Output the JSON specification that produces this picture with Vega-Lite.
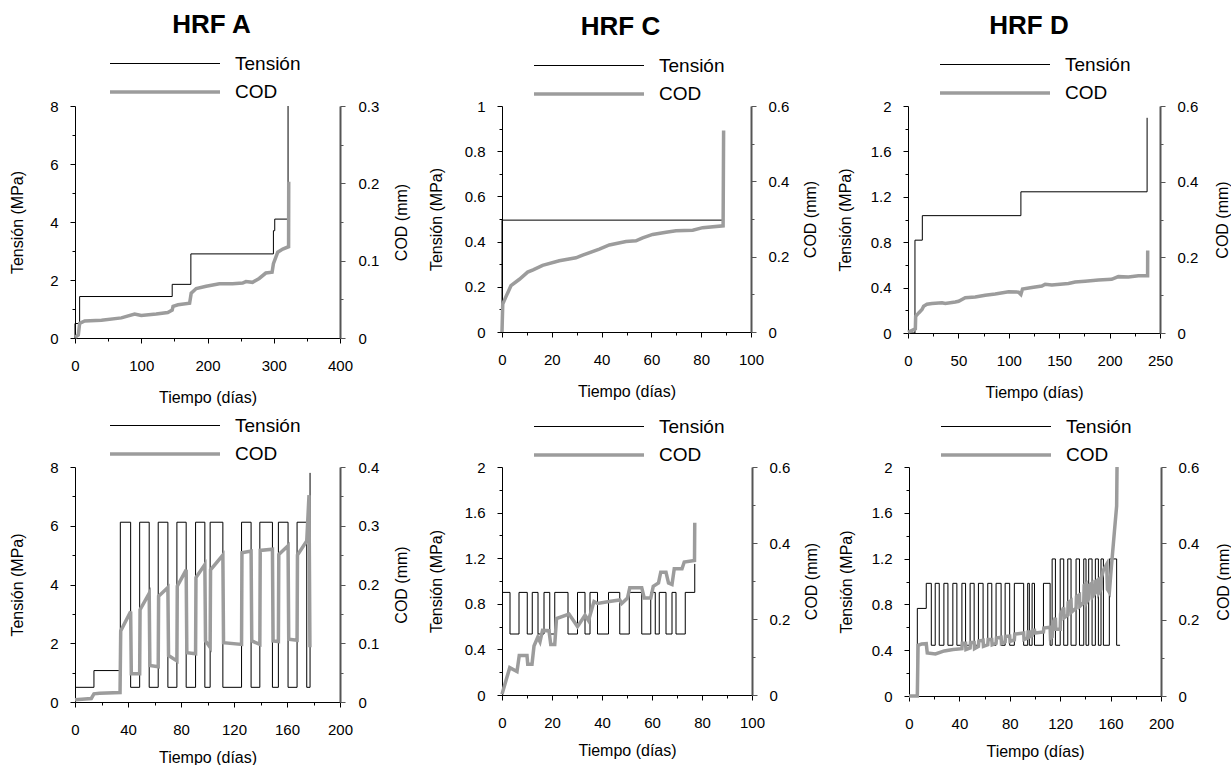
{
  "$schema": "https://vega.github.io/schema/vega-lite/v6.json",
  "padding": {"left": 9, "top": 12, "right": 0, "bottom": 0},
  "background": "white",
  "config": {
    "font": "Liberation Sans",
    "view": {"stroke": null},
    "style": {"guide-title": {"fontWeight": 400}},
    "axisX": {"grid": false, "labelFontSize": 15, "titleFontSize": 16, "titleFontWeight": 400, "labelColor": "#000", "titleColor": "#000", "domainColor": "#000", "tickColor": "#000", "labelFlush": false, "labelOverlap": false, "labelBound": false, "labelPadding": 15, "titlePadding": 16},
    "axisLeft": {"grid": false, "labelFontSize": 15, "titleFontSize": 16, "titleFontWeight": 400, "labelColor": "#000", "titleColor": "#000", "domainColor": "#000", "tickColor": "#000", "labelFlush": false, "labelOverlap": false, "labelBound": false, "labelPadding": 12},
    "axisRight": {"grid": false, "labelFontSize": 15, "titleFontSize": 16, "titleFontWeight": 400, "labelColor": "#000", "titleColor": "#000", "labelFlush": false, "labelOverlap": false, "labelBound": false, "labelPadding": 12, "titleAngle": 270, "titleBaseline": "top", "domainColor": "#555", "domainWidth": 2, "tickColor": "#555"},
    "legend": {"symbolType": "M-5,0H5", "symbolSize": 484, "labelFontSize": 19, "labelOffset": 57, "rowPadding": 5, "labelColor": "#000", "direction": "vertical"},
    "title": {"fontSize": 26, "fontWeight": "bold", "color": "#000", "anchor": "middle", "frame": "group"}
  },
  "datasets": {
    "A1": [
      {"s":"Tensión","t":0,"v":0},{"s":"Tensión","t":0,"v":0.5},{"s":"Tensión","t":7,"v":1.43},{"s":"Tensión","t":146.7,"v":1.85},{"s":"Tensión","t":174.9,"v":2.9},{"s":"Tensión","t":299.5,"v":3.7},{"s":"Tensión","t":301.5,"v":4.1},{"s":"Tensión","t":321.6,"v":8},
      {"s":"COD","t":0,"v":0.001},{"s":"COD","t":5,"v":0.004},{"s":"COD","t":7,"v":0.019},{"s":"COD","t":14.6,"v":0.022},{"s":"COD","t":40,"v":0.023},{"s":"COD","t":70,"v":0.026},{"s":"COD","t":90,"v":0.031},{"s":"COD","t":100,"v":0.029},{"s":"COD","t":122.6,"v":0.031},{"s":"COD","t":140,"v":0.033},{"s":"COD","t":146.7,"v":0.036},{"s":"COD","t":148,"v":0.041},{"s":"COD","t":155.5,"v":0.043},{"s":"COD","t":173,"v":0.045},{"s":"COD","t":175.4,"v":0.058},{"s":"COD","t":183,"v":0.064},{"s":"COD","t":198,"v":0.067},{"s":"COD","t":218,"v":0.07},{"s":"COD","t":238,"v":0.07},{"s":"COD","t":253,"v":0.071},{"s":"COD","t":258,"v":0.073},{"s":"COD","t":268,"v":0.072},{"s":"COD","t":278,"v":0.077},{"s":"COD","t":288,"v":0.084},{"s":"COD","t":297.5,"v":0.085},{"s":"COD","t":299.5,"v":0.096},{"s":"COD","t":306,"v":0.111},{"s":"COD","t":313.6,"v":0.115},{"s":"COD","t":322.4,"v":0.118},{"s":"COD","t":322.6,"v":0.202}
    ],
    "C1": [
      {"s":"Tensión","t":0,"v":0},{"s":"Tensión","t":0,"v":0.495},{"s":"Tensión","t":88.8,"v":0.495},
      {"s":"COD","t":0,"v":0},{"s":"COD","t":0.3,"v":0.074},{"s":"COD","t":1.6,"v":0.094},{"s":"COD","t":3.6,"v":0.123},{"s":"COD","t":7,"v":0.14},{"s":"COD","t":10.3,"v":0.159},{"s":"COD","t":12.5,"v":0.165},{"s":"COD","t":16.3,"v":0.177},{"s":"COD","t":23,"v":0.189},{"s":"COD","t":29.7,"v":0.197},{"s":"COD","t":32.4,"v":0.204},{"s":"COD","t":39.1,"v":0.22},{"s":"COD","t":43.1,"v":0.231},{"s":"COD","t":49.8,"v":0.24},{"s":"COD","t":53.8,"v":0.242},{"s":"COD","t":56.5,"v":0.25},{"s":"COD","t":60.5,"v":0.259},{"s":"COD","t":65.9,"v":0.265},{"s":"COD","t":69.9,"v":0.269},{"s":"COD","t":76.6,"v":0.27},{"s":"COD","t":80.6,"v":0.277},{"s":"COD","t":88.8,"v":0.282},{"s":"COD","t":89,"v":0.535}
    ],
    "D1": [
      {"s":"Tensión","t":0,"v":0},{"s":"Tensión","t":6.9,"v":0.818},{"s":"Tensión","t":14.2,"v":1.034},{"s":"Tensión","t":112,"v":1.244},{"s":"Tensión","t":237.2,"v":1.896},
      {"s":"COD","t":0,"v":0.002},{"s":"COD","t":5.6,"v":0.009},{"s":"COD","t":7.3,"v":0.011},{"s":"COD","t":7.6,"v":0.044},{"s":"COD","t":10.6,"v":0.053},{"s":"COD","t":13.9,"v":0.062},{"s":"COD","t":15.5,"v":0.071},{"s":"COD","t":18.8,"v":0.076},{"s":"COD","t":23.8,"v":0.078},{"s":"COD","t":33.7,"v":0.08},{"s":"COD","t":37,"v":0.078},{"s":"COD","t":46.9,"v":0.082},{"s":"COD","t":50.2,"v":0.084},{"s":"COD","t":56.8,"v":0.093},{"s":"COD","t":66.7,"v":0.095},{"s":"COD","t":76.6,"v":0.1},{"s":"COD","t":86.5,"v":0.103},{"s":"COD","t":99.8,"v":0.109},{"s":"COD","t":109.7,"v":0.108},{"s":"COD","t":112,"v":0.102},{"s":"COD","t":113.6,"v":0.116},{"s":"COD","t":122.9,"v":0.12},{"s":"COD","t":132.8,"v":0.124},{"s":"COD","t":136.1,"v":0.129},{"s":"COD","t":142.7,"v":0.127},{"s":"COD","t":159.2,"v":0.131},{"s":"COD","t":165.8,"v":0.135},{"s":"COD","t":175.7,"v":0.137},{"s":"COD","t":189,"v":0.14},{"s":"COD","t":202,"v":0.142},{"s":"COD","t":208.7,"v":0.149},{"s":"COD","t":218.7,"v":0.148},{"s":"COD","t":228.6,"v":0.151},{"s":"COD","t":237.7,"v":0.151},{"s":"COD","t":237.8,"v":0.218}
    ],
    "A2": [
      {"s":"Tensión","t":0,"v":0.5},{"s":"Tensión","t":14.3,"v":1.07},{"s":"Tensión","t":34.2,"v":6.12},{"s":"Tensión","t":42.0,"v":0.5},{"s":"Tensión","t":48.8,"v":6.12},{"s":"Tensión","t":56.0,"v":0.5},{"s":"Tensión","t":62.8,"v":6.12},{"s":"Tensión","t":70.1,"v":0.5},{"s":"Tensión","t":76.9,"v":6.12},{"s":"Tensión","t":83.9,"v":0.5},{"s":"Tensión","t":91.0,"v":6.12},{"s":"Tensión","t":98.0,"v":0.5},{"s":"Tensión","t":102.0,"v":6.12},{"s":"Tensión","t":111.6,"v":0.5},{"s":"Tensión","t":125.7,"v":6.12},{"s":"Tensión","t":132.9,"v":0.5},{"s":"Tensión","t":139.5,"v":6.12},{"s":"Tensión","t":149.0,"v":0.5},{"s":"Tensión","t":153.5,"v":6.12},{"s":"Tensión","t":160.8,"v":0.5},{"s":"Tensión","t":167.6,"v":6.12},{"s":"Tensión","t":174.9,"v":0.5},{"s":"Tensión","t":177.4,"v":7.8},
      {"s":"COD","t":0,"v":0.004},{"s":"COD","t":12.3,"v":0.006},{"s":"COD","t":14.3,"v":0.014},{"s":"COD","t":18.6,"v":0.015},{"s":"COD","t":34.0,"v":0.016},{"s":"COD","t":34.5,"v":0.121},{"s":"COD","t":42.0,"v":0.154},{"s":"COD","t":42.5,"v":0.048},{"s":"COD","t":48.8,"v":0.048},{"s":"COD","t":49.1,"v":0.157},{"s":"COD","t":56.0,"v":0.185},{"s":"COD","t":56.5,"v":0.062},{"s":"COD","t":62.8,"v":0.06},{"s":"COD","t":63.1,"v":0.18},{"s":"COD","t":70.1,"v":0.195},{"s":"COD","t":70.6,"v":0.079},{"s":"COD","t":76.9,"v":0.07},{"s":"COD","t":77.2,"v":0.197},{"s":"COD","t":83.9,"v":0.225},{"s":"COD","t":84.4,"v":0.084},{"s":"COD","t":91.0,"v":0.082},{"s":"COD","t":91.3,"v":0.212},{"s":"COD","t":98.0,"v":0.234},{"s":"COD","t":98.5,"v":0.104},{"s":"COD","t":102.0,"v":0.093},{"s":"COD","t":102.3,"v":0.225},{"s":"COD","t":111.6,"v":0.25},{"s":"COD","t":112.1,"v":0.101},{"s":"COD","t":125.7,"v":0.098},{"s":"COD","t":126.0,"v":0.254},{"s":"COD","t":132.9,"v":0.257},{"s":"COD","t":133.4,"v":0.104},{"s":"COD","t":139.5,"v":0.098},{"s":"COD","t":139.8,"v":0.258},{"s":"COD","t":149.0,"v":0.26},{"s":"COD","t":149.5,"v":0.104},{"s":"COD","t":153.5,"v":0.103},{"s":"COD","t":153.8,"v":0.251},{"s":"COD","t":160.8,"v":0.266},{"s":"COD","t":161.3,"v":0.107},{"s":"COD","t":167.6,"v":0.105},{"s":"COD","t":167.9,"v":0.25},{"s":"COD","t":174.9,"v":0.274},{"s":"COD","t":176.6,"v":0.352},{"s":"COD","t":177.3,"v":0.093}
    ],
    "C2": [
      {"s":"Tensión","t":0,"v":0.9},{"s":"Tensión","t":3.2,"v":0.535},{"s":"Tensión","t":6.8,"v":0.9},{"s":"Tensión","t":10.1,"v":0.535},{"s":"Tensión","t":12.1,"v":0.9},{"s":"Tensión","t":14.4,"v":0.535},{"s":"Tensión","t":16.8,"v":0.9},{"s":"Tensión","t":19.1,"v":0.535},{"s":"Tensión","t":21.1,"v":0.9},{"s":"Tensión","t":26.4,"v":0.535},{"s":"Tensión","t":30.2,"v":0.9},{"s":"Tensión","t":33.2,"v":0.535},{"s":"Tensión","t":35.2,"v":0.9},{"s":"Tensión","t":38.2,"v":0.535},{"s":"Tensión","t":42.6,"v":0.9},{"s":"Tensión","t":47.1,"v":0.535},{"s":"Tensión","t":50.9,"v":0.9},{"s":"Tensión","t":55.9,"v":0.535},{"s":"Tensión","t":59.5,"v":0.9},{"s":"Tensión","t":61.3,"v":0.535},{"s":"Tensión","t":62.9,"v":0.9},{"s":"Tensión","t":65.6,"v":0.535},{"s":"Tensión","t":68.0,"v":0.9},{"s":"Tensión","t":69.6,"v":0.535},{"s":"Tensión","t":73.3,"v":0.9},{"s":"Tensión","t":77.1,"v":1.15},
      {"s":"COD","t":0,"v":0.002},{"s":"COD","t":3.1,"v":0.072},{"s":"COD","t":6.0,"v":0.062},{"s":"COD","t":6.9,"v":0.104},{"s":"COD","t":10.0,"v":0.104},{"s":"COD","t":10.3,"v":0.081},{"s":"COD","t":12.0,"v":0.081},{"s":"COD","t":12.8,"v":0.129},{"s":"COD","t":14.3,"v":0.152},{"s":"COD","t":15.2,"v":0.14},{"s":"COD","t":16.2,"v":0.17},{"s":"COD","t":18.8,"v":0.169},{"s":"COD","t":19.5,"v":0.133},{"s":"COD","t":21.1,"v":0.133},{"s":"COD","t":21.8,"v":0.201},{"s":"COD","t":26.8,"v":0.213},{"s":"COD","t":30.2,"v":0.18},{"s":"COD","t":33.2,"v":0.21},{"s":"COD","t":34.6,"v":0.196},{"s":"COD","t":36.8,"v":0.246},{"s":"COD","t":38.2,"v":0.241},{"s":"COD","t":42.9,"v":0.246},{"s":"COD","t":47.1,"v":0.25},{"s":"COD","t":47.9,"v":0.241},{"s":"COD","t":50.2,"v":0.255},{"s":"COD","t":51.1,"v":0.282},{"s":"COD","t":55.9,"v":0.282},{"s":"COD","t":56.9,"v":0.255},{"s":"COD","t":59.5,"v":0.255},{"s":"COD","t":60.5,"v":0.286},{"s":"COD","t":62.6,"v":0.295},{"s":"COD","t":63.5,"v":0.323},{"s":"COD","t":65.6,"v":0.323},{"s":"COD","t":66.6,"v":0.295},{"s":"COD","t":68.0,"v":0.291},{"s":"COD","t":68.9,"v":0.332},{"s":"COD","t":72.0,"v":0.332},{"s":"COD","t":72.9,"v":0.35},{"s":"COD","t":77.0,"v":0.354},{"s":"COD","t":77.1,"v":0.453}
    ],
    "D2": [
      {"s":"Tensión","t":0,"v":0},{"s":"Tensión","t":6.6,"v":0.765},{"s":"Tensión","t":13.7,"v":0.984},{"s":"Tensión","t":17.7,"v":0.443},{"s":"Tensión","t":20.8,"v":0.984},{"s":"Tensión","t":24.0,"v":0.443},{"s":"Tensión","t":27.7,"v":0.984},{"s":"Tensión","t":30.9,"v":0.443},{"s":"Tensión","t":34.8,"v":0.984},{"s":"Tensión","t":38.0,"v":0.443},{"s":"Tensión","t":42.0,"v":0.984},{"s":"Tensión","t":44.9,"v":0.443},{"s":"Tensión","t":48.5,"v":0.984},{"s":"Tensión","t":51.7,"v":0.443},{"s":"Tensión","t":55.1,"v":0.984},{"s":"Tensión","t":58.8,"v":0.443},{"s":"Tensión","t":62.5,"v":0.984},{"s":"Tensión","t":65.7,"v":0.443},{"s":"Tensión","t":69.1,"v":0.984},{"s":"Tensión","t":73.1,"v":0.443},{"s":"Tensión","t":76.3,"v":0.984},{"s":"Tensión","t":79.9,"v":0.443},{"s":"Tensión","t":83.6,"v":0.984},{"s":"Tensión","t":91.0,"v":0.443},{"s":"Tensión","t":94.2,"v":0.984},{"s":"Tensión","t":95.5,"v":0.443},{"s":"Tensión","t":97.7,"v":0.984},{"s":"Tensión","t":99.6,"v":0.443},{"s":"Tensión","t":106.7,"v":0.984},{"s":"Tensión","t":112.0,"v":0.443},{"s":"Tensión","t":113.6,"v":1.197},{"s":"Tensión","t":116.2,"v":0.443},{"s":"Tensión","t":120.0,"v":1.197},{"s":"Tensión","t":122.8,"v":0.443},{"s":"Tensión","t":126.0,"v":1.197},{"s":"Tensión","t":128.6,"v":0.443},{"s":"Tensión","t":132.6,"v":1.197},{"s":"Tensión","t":135.3,"v":0.443},{"s":"Tensión","t":138.7,"v":1.197},{"s":"Tensión","t":140.5,"v":0.443},{"s":"Tensión","t":142.6,"v":1.197},{"s":"Tensión","t":145.3,"v":0.443},{"s":"Tensión","t":147.9,"v":1.197},{"s":"Tensión","t":150.3,"v":0.443},{"s":"Tensión","t":152.4,"v":1.197},{"s":"Tensión","t":154.3,"v":0.443},{"s":"Tensión","t":159.0,"v":1.197},{"s":"Tensión","t":164.8,"v":0.443},{"s":"Tensión","t":167.5,"v":0.443},
      {"s":"COD","t":0,"v":0},{"s":"COD","t":6.6,"v":0},{"s":"COD","t":7.2,"v":0.133},{"s":"COD","t":10,"v":0.136},{"s":"COD","t":13.7,"v":0.137},{"s":"COD","t":14.5,"v":0.113},{"s":"COD","t":21,"v":0.11},{"s":"COD","t":28,"v":0.118},{"s":"COD","t":35,"v":0.122},
      {"s":"COD","t":42.0,"v":0.124},{"s":"COD","t":42.3,"v":0.138},{"s":"COD","t":44.9,"v":0.138},{"s":"COD","t":45.2,"v":0.122},
      {"s":"COD","t":48.5,"v":0.126},{"s":"COD","t":48.8,"v":0.14},{"s":"COD","t":51.7,"v":0.14},{"s":"COD","t":52.0,"v":0.124},
      {"s":"COD","t":55.1,"v":0.13},{"s":"COD","t":55.4,"v":0.144},{"s":"COD","t":58.8,"v":0.146},{"s":"COD","t":59.1,"v":0.13},
      {"s":"COD","t":62.5,"v":0.134},{"s":"COD","t":62.8,"v":0.148},{"s":"COD","t":65.7,"v":0.148},{"s":"COD","t":66.0,"v":0.134},
      {"s":"COD","t":69.1,"v":0.138},{"s":"COD","t":69.4,"v":0.152},{"s":"COD","t":73.1,"v":0.154},{"s":"COD","t":73.4,"v":0.138},
      {"s":"COD","t":76.3,"v":0.142},{"s":"COD","t":76.6,"v":0.156},{"s":"COD","t":79.9,"v":0.157},{"s":"COD","t":80.2,"v":0.143},
      {"s":"COD","t":83.6,"v":0.147},{"s":"COD","t":83.9,"v":0.162},{"s":"COD","t":91.0,"v":0.165},{"s":"COD","t":91.3,"v":0.148},
      {"s":"COD","t":94.2,"v":0.152},{"s":"COD","t":94.5,"v":0.168},{"s":"COD","t":95.5,"v":0.168},{"s":"COD","t":95.8,"v":0.155},
      {"s":"COD","t":97.7,"v":0.158},{"s":"COD","t":98.0,"v":0.172},{"s":"COD","t":99.6,"v":0.172},{"s":"COD","t":99.9,"v":0.165},
      {"s":"COD","t":106.7,"v":0.168},{"s":"COD","t":107.0,"v":0.178},{"s":"COD","t":112.0,"v":0.18},{"s":"COD","t":112.3,"v":0.152},
      {"s":"COD","t":113.6,"v":0.155},{"s":"COD","t":114.0,"v":0.19},{"s":"COD","t":116.2,"v":0.205},{"s":"COD","t":116.5,"v":0.175},{"s":"COD","t":120.0,"v":0.175},{"s":"COD","t":120.3,"v":0.215},{"s":"COD","t":122.8,"v":0.232},{"s":"COD","t":123.1,"v":0.205},{"s":"COD","t":126.0,"v":0.212},{"s":"COD","t":126.3,"v":0.245},{"s":"COD","t":128.6,"v":0.25},{"s":"COD","t":128.9,"v":0.22},{"s":"COD","t":132.6,"v":0.23},{"s":"COD","t":132.9,"v":0.26},{"s":"COD","t":135.3,"v":0.265},{"s":"COD","t":135.6,"v":0.235},{"s":"COD","t":138.7,"v":0.245},{"s":"COD","t":139.0,"v":0.29},{"s":"COD","t":140.5,"v":0.294},{"s":"COD","t":140.8,"v":0.245},{"s":"COD","t":142.6,"v":0.255},{"s":"COD","t":142.9,"v":0.29},{"s":"COD","t":145.3,"v":0.296},{"s":"COD","t":145.6,"v":0.26},{"s":"COD","t":147.9,"v":0.27},{"s":"COD","t":148.2,"v":0.3},{"s":"COD","t":150.3,"v":0.305},{"s":"COD","t":150.6,"v":0.27},{"s":"COD","t":152.4,"v":0.28},{"s":"COD","t":152.7,"v":0.31},{"s":"COD","t":154.3,"v":0.33},{"s":"COD","t":156.9,"v":0.345},{"s":"COD","t":157.5,"v":0.28},{"s":"COD","t":159.0,"v":0.272},{"s":"COD","t":160.4,"v":0.33},{"s":"COD","t":163.0,"v":0.43},{"s":"COD","t":164.8,"v":0.498},{"s":"COD","t":165.1,"v":0.6}
    ]
  },
  "spacing": 9,
  "resolve": {"scale": {"color": "independent", "strokeWidth": "independent"}},
  "vconcat": [
    {
      "spacing": 18,
      "resolve": {"scale": {"color": "independent", "strokeWidth": "independent"}},
      "hconcat": [
        {
          "width": 265, "height": 232,
          "title": {"text": "HRF A", "dx": 4, "offset": 14},
          "data": {"name": "A1"},
          "encoding": {
            "x": {"field": "t", "type": "quantitative", "scale": {"domain": [0, 400], "nice": false},
                  "axis": {"title": "Tiempo (días)", "titleFontWeight": 400, "values": [0,50,100,150,200,250,300,350,400], "labelExpr": "datum.value % 100 === 0 ? '' + datum.value : ''", "tickSize": {"condition": {"test": "datum.value % 100 === 0", "value": 5}, "value": 3}}},
            "color": {"field": "s", "type": "nominal", "scale": {"domain": ["Tensión", "COD"], "range": ["#000000", "#9c9c9c"]}, "legend": {"orient": "none", "legendX": 77, "legendY": -54, "title": null}},
            "strokeWidth": {"field": "s", "type": "nominal", "scale": {"type": "ordinal", "domain": ["Tensión", "COD"], "range": [1, 3.5]}, "legend": {"orient": "none", "legendX": 77, "legendY": -54, "title": null}}
          },
          "layer": [
            {"transform": [{"filter": "datum.s === 'Tensión'"}], "mark": {"type": "line", "interpolate": "step-after"},
             "encoding": {"y": {"field": "v", "type": "quantitative", "scale": {"domain": [0, 8], "nice": false},
               "axis": {"orient": "left", "title": "Tensión (MPa)", "titleFontWeight": 400, "titlePadding": 24, "values": [0,1,2,3,4,5,6,7,8], "labelExpr": "datum.value % 2 === 0 ? '' + datum.value : ''", "tickSize": {"condition": {"test": "datum.value % 2 === 0", "value": 5}, "value": 3}}}}},
            {"transform": [{"filter": "datum.s === 'COD'"}], "mark": {"type": "line"},
             "encoding": {"y": {"field": "v", "type": "quantitative", "scale": {"domain": [0, 0.3], "nice": false},
               "axis": {"orient": "right", "title": "COD (mm)", "titleFontWeight": 400, "titlePadding": 15, "labelPadding": 13, "values": [0,0.05,0.1,0.15,0.2,0.25,0.3], "labelExpr": "round(datum.value*100) % 10 === 0 ? '' + datum.value : ''", "tickSize": {"condition": {"test": "round(datum.value*100) % 10 === 0", "value": 5}, "value": 3}}}}}
          ],
          "resolve": {"scale": {"y": "independent"}}
        },
        {
          "width": 249, "height": 226,
          "title": {"text": "HRF C", "dx": -6, "offset": 14},
          "data": {"name": "C1"},
          "encoding": {
            "x": {"field": "t", "type": "quantitative", "scale": {"domain": [0, 100], "nice": false},
                  "axis": {"title": "Tiempo (días)", "titleFontWeight": 400, "values": [0,10,20,30,40,50,60,70,80,90,100], "labelExpr": "datum.value % 20 === 0 ? '' + datum.value : ''", "tickSize": {"condition": {"test": "datum.value % 20 === 0", "value": 5}, "value": 3}}},
            "color": {"field": "s", "type": "nominal", "scale": {"domain": ["Tensión", "COD"], "range": ["#000000", "#9c9c9c"]}, "legend": {"orient": "none", "legendX": 74, "legendY": -52, "title": null}},
            "strokeWidth": {"field": "s", "type": "nominal", "scale": {"type": "ordinal", "domain": ["Tensión", "COD"], "range": [1, 3.5]}, "legend": {"orient": "none", "legendX": 74, "legendY": -52, "title": null}}
          },
          "layer": [
            {"transform": [{"filter": "datum.s === 'Tensión'"}], "mark": {"type": "line", "interpolate": "step-after"},
             "encoding": {"y": {"field": "v", "type": "quantitative", "scale": {"domain": [0, 1], "nice": false},
               "axis": {"orient": "left", "title": "Tensión (MPa)", "titleFontWeight": 400, "titlePadding": 20, "values": [0,0.1,0.2,0.3,0.4,0.5,0.6,0.7,0.8,0.9,1], "labelExpr": "round(datum.value*10) % 2 === 0 ? '' + datum.value : ''", "tickSize": {"condition": {"test": "round(datum.value*10) % 2 === 0", "value": 5}, "value": 3}}}}},
            {"transform": [{"filter": "datum.s === 'COD'"}], "mark": {"type": "line"},
             "encoding": {"y": {"field": "v", "type": "quantitative", "scale": {"domain": [0, 0.6], "nice": false},
               "axis": {"orient": "right", "title": "COD (mm)", "titleFontWeight": 400, "titlePadding": 14, "values": [0,0.1,0.2,0.3,0.4,0.5,0.6], "labelExpr": "round(datum.value*10) % 2 === 0 ? '' + datum.value : ''", "tickSize": {"condition": {"test": "round(datum.value*10) % 2 === 0", "value": 5}, "value": 3}}}}}
          ],
          "resolve": {"scale": {"y": "independent"}}
        },
        {
          "width": 252, "height": 227,
          "title": {"text": "HRF D", "dx": -5, "offset": 14},
          "data": {"name": "D1"},
          "encoding": {
            "x": {"field": "t", "type": "quantitative", "scale": {"domain": [0, 250], "nice": false},
                  "axis": {"title": "Tiempo (días)", "titleFontWeight": 400, "values": [0,25,50,75,100,125,150,175,200,225,250], "labelExpr": "datum.value % 50 === 0 ? '' + datum.value : ''", "tickSize": {"condition": {"test": "datum.value % 50 === 0", "value": 5}, "value": 3}}},
            "color": {"field": "s", "type": "nominal", "scale": {"domain": ["Tensión", "COD"], "range": ["#000000", "#9c9c9c"]}, "legend": {"orient": "none", "legendX": 74, "legendY": -53, "title": null}},
            "strokeWidth": {"field": "s", "type": "nominal", "scale": {"type": "ordinal", "domain": ["Tensión", "COD"], "range": [1, 3.5]}, "legend": {"orient": "none", "legendX": 74, "legendY": -53, "title": null}}
          },
          "layer": [
            {"transform": [{"filter": "datum.s === 'Tensión'"}], "mark": {"type": "line", "interpolate": "step-after"},
             "encoding": {"y": {"field": "v", "type": "quantitative", "scale": {"domain": [0, 2], "nice": false},
               "axis": {"orient": "left", "title": "Tensión (MPa)", "titleFontWeight": 400, "titlePadding": 17, "values": [0,0.2,0.4,0.6,0.8,1,1.2,1.4,1.6,1.8,2], "labelExpr": "round(datum.value*10) % 4 === 0 ? '' + datum.value : ''", "tickSize": {"condition": {"test": "round(datum.value*10) % 4 === 0", "value": 5}, "value": 3}}}}},
            {"transform": [{"filter": "datum.s === 'COD'"}], "mark": {"type": "line"},
             "encoding": {"y": {"field": "v", "type": "quantitative", "scale": {"domain": [0, 0.6], "nice": false},
               "axis": {"orient": "right", "title": "COD (mm)", "titleFontWeight": 400, "titlePadding": 17, "values": [0,0.1,0.2,0.3,0.4,0.5,0.6], "labelExpr": "round(datum.value*10) % 2 === 0 ? '' + datum.value : ''", "tickSize": {"condition": {"test": "round(datum.value*10) % 2 === 0", "value": 5}, "value": 3}}}}}
          ],
          "resolve": {"scale": {"y": "independent"}}
        }
      ]
    },
    {
      "spacing": 18,
      "resolve": {"scale": {"color": "independent", "strokeWidth": "independent"}},
      "hconcat": [
        {
          "width": 265, "height": 235,
          "data": {"name": "A2"},
          "encoding": {
            "x": {"field": "t", "type": "quantitative", "scale": {"domain": [0, 200], "nice": false},
                  "axis": {"title": "Tiempo (días)", "titleFontWeight": 400, "titlePadding": 12, "values": [0,20,40,60,80,100,120,140,160,180,200], "labelExpr": "datum.value % 40 === 0 ? '' + datum.value : ''", "tickSize": {"condition": {"test": "datum.value % 40 === 0", "value": 5}, "value": 3}}},
            "color": {"field": "s", "type": "nominal", "scale": {"domain": ["Tensión", "COD"], "range": ["#000000", "#9c9c9c"]}, "legend": {"orient": "none", "legendX": 77, "legendY": -53, "title": null}},
            "strokeWidth": {"field": "s", "type": "nominal", "scale": {"type": "ordinal", "domain": ["Tensión", "COD"], "range": [1, 3.5]}, "legend": {"orient": "none", "legendX": 77, "legendY": -53, "title": null}}
          },
          "layer": [
            {"transform": [{"filter": "datum.s === 'Tensión'"}], "mark": {"type": "line", "interpolate": "step-after"},
             "encoding": {"y": {"field": "v", "type": "quantitative", "scale": {"domain": [0, 8], "nice": false},
               "axis": {"orient": "left", "title": "Tensión (MPa)", "titleFontWeight": 400, "titlePadding": 24, "values": [0,1,2,3,4,5,6,7,8], "labelExpr": "datum.value % 2 === 0 ? '' + datum.value : ''", "tickSize": {"condition": {"test": "datum.value % 2 === 0", "value": 5}, "value": 3}}}}},
            {"transform": [{"filter": "datum.s === 'COD'"}], "mark": {"type": "line"},
             "encoding": {"y": {"field": "v", "type": "quantitative", "scale": {"domain": [0, 0.4], "nice": false},
               "axis": {"orient": "right", "title": "COD (mm)", "titleFontWeight": 400, "titlePadding": 15, "labelPadding": 13, "values": [0,0.05,0.1,0.15,0.2,0.25,0.3,0.35,0.4], "labelExpr": "round(datum.value*100) % 10 === 0 ? '' + datum.value : ''", "tickSize": {"condition": {"test": "round(datum.value*100) % 10 === 0", "value": 5}, "value": 3}}}}}
          ],
          "resolve": {"scale": {"y": "independent"}}
        },
        {
          "width": 250, "height": 228,
          "data": {"name": "C2"},
          "encoding": {
            "x": {"field": "t", "type": "quantitative", "scale": {"domain": [0, 100], "nice": false},
                  "axis": {"title": "Tiempo (días)", "titleFontWeight": 400, "titlePadding": 12, "values": [0,10,20,30,40,50,60,70,80,90,100], "labelExpr": "datum.value % 20 === 0 ? '' + datum.value : ''", "tickSize": {"condition": {"test": "datum.value % 20 === 0", "value": 5}, "value": 3}}},
            "color": {"field": "s", "type": "nominal", "scale": {"domain": ["Tensión", "COD"], "range": ["#000000", "#9c9c9c"]}, "legend": {"orient": "none", "legendX": 74, "legendY": -52, "title": null}},
            "strokeWidth": {"field": "s", "type": "nominal", "scale": {"type": "ordinal", "domain": ["Tensión", "COD"], "range": [1, 3.5]}, "legend": {"orient": "none", "legendX": 74, "legendY": -52, "title": null}}
          },
          "layer": [
            {"transform": [{"filter": "datum.s === 'Tensión'"}], "mark": {"type": "line", "interpolate": "step-after"},
             "encoding": {"y": {"field": "v", "type": "quantitative", "scale": {"domain": [0, 2], "nice": false},
               "axis": {"orient": "left", "title": "Tensión (MPa)", "titleFontWeight": 400, "titlePadding": 20, "values": [0,0.2,0.4,0.6,0.8,1,1.2,1.4,1.6,1.8,2], "labelExpr": "round(datum.value*10) % 4 === 0 ? '' + datum.value : ''", "tickSize": {"condition": {"test": "round(datum.value*10) % 4 === 0", "value": 5}, "value": 3}}}}},
            {"transform": [{"filter": "datum.s === 'COD'"}], "mark": {"type": "line"},
             "encoding": {"y": {"field": "v", "type": "quantitative", "scale": {"domain": [0, 0.6], "nice": false},
               "axis": {"orient": "right", "title": "COD (mm)", "titleFontWeight": 400, "titlePadding": 14, "values": [0,0.1,0.2,0.3,0.4,0.5,0.6], "labelExpr": "round(datum.value*10) % 2 === 0 ? '' + datum.value : ''", "tickSize": {"condition": {"test": "round(datum.value*10) % 2 === 0", "value": 5}, "value": 3}}}}}
          ],
          "resolve": {"scale": {"y": "independent"}}
        },
        {
          "width": 252, "height": 229,
          "data": {"name": "D2"},
          "encoding": {
            "x": {"field": "t", "type": "quantitative", "scale": {"domain": [0, 200], "nice": false},
                  "axis": {"title": "Tiempo (días)", "titleFontWeight": 400, "titlePadding": 12, "values": [0,20,40,60,80,100,120,140,160,180,200], "labelExpr": "datum.value % 40 === 0 ? '' + datum.value : ''", "tickSize": {"condition": {"test": "datum.value % 40 === 0", "value": 5}, "value": 3}}},
            "color": {"field": "s", "type": "nominal", "scale": {"domain": ["Tensión", "COD"], "range": ["#000000", "#9c9c9c"]}, "legend": {"orient": "none", "legendX": 74, "legendY": -52, "title": null}},
            "strokeWidth": {"field": "s", "type": "nominal", "scale": {"type": "ordinal", "domain": ["Tensión", "COD"], "range": [1, 3.5]}, "legend": {"orient": "none", "legendX": 74, "legendY": -52, "title": null}}
          },
          "layer": [
            {"transform": [{"filter": "datum.s === 'Tensión'"}], "mark": {"type": "line", "interpolate": "step-after"},
             "encoding": {"y": {"field": "v", "type": "quantitative", "scale": {"domain": [0, 2], "nice": false},
               "axis": {"orient": "left", "title": "Tensión (MPa)", "titleFontWeight": 400, "titlePadding": 17, "values": [0,0.2,0.4,0.6,0.8,1,1.2,1.4,1.6,1.8,2], "labelExpr": "round(datum.value*10) % 4 === 0 ? '' + datum.value : ''", "tickSize": {"condition": {"test": "round(datum.value*10) % 4 === 0", "value": 5}, "value": 3}}}}},
            {"transform": [{"filter": "datum.s === 'COD'"}], "mark": {"type": "line"},
             "encoding": {"y": {"field": "v", "type": "quantitative", "scale": {"domain": [0, 0.6], "nice": false},
               "axis": {"orient": "right", "title": "COD (mm)", "titleFontWeight": 400, "titlePadding": 17, "values": [0,0.1,0.2,0.3,0.4,0.5,0.6], "labelExpr": "round(datum.value*10) % 2 === 0 ? '' + datum.value : ''", "tickSize": {"condition": {"test": "round(datum.value*10) % 2 === 0", "value": 5}, "value": 3}}}}}
          ],
          "resolve": {"scale": {"y": "independent"}}
        }
      ]
    }
  ]
}
